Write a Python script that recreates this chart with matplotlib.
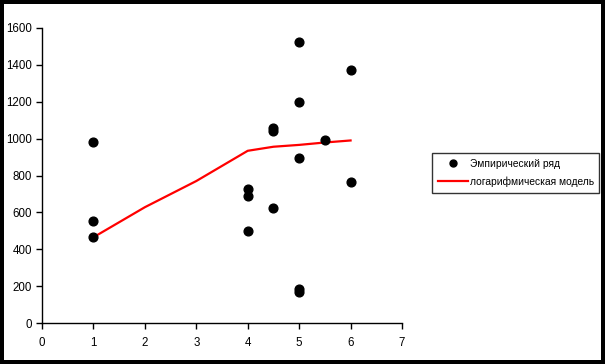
import matplotlib
matplotlib.use("Agg")
import matplotlib.pyplot as plt
from matplotlib.patches import Rectangle

plt.rcParams['font.family'] = ['Liberation Sans', 'DejaVu Sans']

# Empirical series
emp_x = [1, 1, 1, 4, 4, 4, 4.5, 4.5, 4.5, 5, 5, 5, 5, 5, 5.5, 6, 6]
emp_y = [981, 553, 466, 727, 689, 499, 1055, 1040, 624, 1524, 1199, 895, 185, 170, 992, 1372, 765]

# Logarithmic model
mod_x = [1, 2, 3, 4, 4.5, 5, 5.5, 6]
mod_y = [465, 628, 770, 934, 956, 966, 979, 990]

x_ticks = [0, 1, 2, 3, 4, 5, 6, 7]
y_ticks = [0, 200, 400, 600, 800, 1000, 1200, 1400, 1600]

emp_label = "Эмпирический ряд"
mod_label = "логарифмическая модель"

fig = plt.figure(figsize=(6.05, 3.64), dpi=100, facecolor='white')

ax = fig.add_axes([42/605, 1 - 323/364, 360/605, 295/364])
ax.set_facecolor('white')
ax.plot(emp_x, emp_y, linestyle='none', marker='o', color='black',
        markersize=6.3, label=emp_label, zorder=3)
ax.plot(mod_x, mod_y, color='red', linewidth=1.6, label=mod_label, zorder=2)

ax.set_xlim(0, 7)
ax.set_ylim(0, 1600)
ax.set_xticks(x_ticks)
ax.set_yticks(y_ticks)
for s in ['top', 'right']:
    ax.spines[s].set_visible(False)
for s in ['left', 'bottom']:
    ax.spines[s].set_linewidth(1.0)
    ax.spines[s].set_color('black')
ax.tick_params(direction='out', length=4, width=1, labelsize=8.3, colors='black')
ax.tick_params(axis='x', pad=6)
ax.tick_params(axis='y', pad=3)

leg = fig.legend(loc='upper left', bbox_to_anchor=(432/605, 1 - 153/364),
                 frameon=True, fancybox=False, fontsize=7.4, handlelength=3.0,
                 handletextpad=0.1, borderpad=0.55, labelspacing=0.75,
                 borderaxespad=0)
leg.get_frame().set_edgecolor('black')
leg.get_frame().set_linewidth(1.0)
for h in leg.legend_handles:
    if hasattr(h, 'set_markersize'):
        h.set_markersize(5)

# black frame around the whole picture
border = Rectangle((0, 0), 1, 1, transform=fig.transFigure, fill=False,
                   edgecolor='black', linewidth=8 * 72 / 100, zorder=10)
fig.patches.append(border)

fig.savefig('out.png', dpi=100, facecolor='white')
